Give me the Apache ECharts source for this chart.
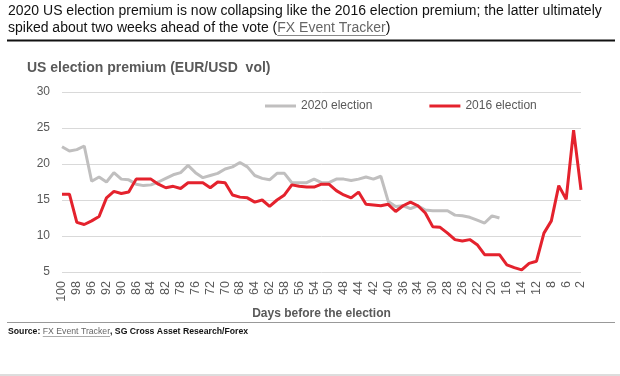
<!DOCTYPE html>
<html>
<head>
<meta charset="utf-8">
<script src="https://cdn.jsdelivr.net/npm/echarts@6/dist/echarts.min.js"></script>
<style>
  html, body { margin: 0; padding: 0; background: #fff; }
  #main { width: 620px; height: 376px; }
</style>
</head>
<body>
<div id="main"></div>
<script>
// days before the election (business days only)
const days = [100, 99, 98, 97, 96, 93, 92, 91, 90, 89, 86, 85, 84, 83, 82, 79, 78, 77, 76, 75,
  72, 71, 70, 69, 68, 65, 64, 63, 62, 61, 58, 57, 56, 55, 54, 51, 50, 49, 48, 47,
  44, 43, 42, 41, 40, 37, 36, 35, 34, 33, 30, 29, 28, 27, 26, 23, 22, 21, 20, 19,
  16, 15, 14, 13, 12, 9, 8, 7, 6, 5, 2];

// 2020 election premium
const vol2020 = [22.4, 21.8, 22.0, 22.5, 17.6, 18.2, 17.5, 18.8, 17.9, 17.8,
  17.2, 17.0, 17.1, 17.5, 18.0, 18.5, 18.8, 19.8, 18.8, 18.1,
  18.4, 18.7, 19.3, 19.6, 20.2, 19.6, 18.4, 18.0, 17.8, 18.7,
  18.7, 17.4, 17.4, 17.4, 17.9, 17.4, 17.4, 17.9, 17.9, 17.7,
  17.9, 18.2, 17.9, 18.3, 14.8, 14.1, 14.2, 13.8, 14.2, 13.6,
  13.5, 13.5, 13.5, 12.9, 12.8, 12.6, 12.2, 11.8, 12.8, 12.5,
  null, null, null, null, null, null, null, null, null, null, null];

// 2016 election premium
const vol2016 = [15.8, 15.8, 11.9, 11.6, 12.1, 12.7, 15.3, 16.2, 15.9, 16.1,
  17.9, 17.9, 17.9, 17.2, 16.7, 16.9, 16.6, 17.4, 17.4, 17.4,
  16.7, 17.5, 17.4, 15.7, 15.4, 15.3, 14.7, 15.0, 14.1, 15.0,
  15.7, 17.1, 16.9, 16.8, 16.8, 17.2, 17.2, 16.3, 15.7, 15.3,
  16.1, 14.4, 14.3, 14.2, 14.4, 13.4, 14.2, 14.7, 14.2, 13.2,
  11.3, 11.2, 10.4, 9.5, 9.3, 9.5, 8.8, 7.4, 7.4, 7.4,
  6.0, 5.6, 5.3, 6.2, 6.5, 10.4, 12.1, 17.0, 15.1, 24.7, 16.4];

const yTicks = [5, 10, 15, 20, 25, 30];

const FONT = 'Liberation Sans, Arial, sans-serif';
const RED = '#e4222d';
const GREY = '#c0bfbf';
const TXT = '#595959';

// measure text so the underlines sit right under the links
const ctx = document.createElement('canvas').getContext('2d');
const measure = (s, font) => { ctx.font = font; return ctx.measureText(s).width; };

const titleFont = '14px ' + FONT;
const line2a = 'spiked about two weeks ahead of the vote (';
const link = 'FX Event Tracker';
const x2a = 8 + measure(line2a, titleFont);
const linkW = measure(link, titleFont);

const srcBold = 'bold 8.7px ' + FONT;
const srcNorm = '8.7px ' + FONT;
const srcA = 'Source: ';
const srcX1 = 8 + measure(srcA, srcBold);
const srcLinkW = measure(link, srcNorm);

const chart = echarts.init(document.getElementById('main'), null, { renderer: 'canvas' });

const option = {
  backgroundColor: '#fff',
  animation: false,
  grid: { left: 62, right: 39, top: 92, bottom: 104 },
  legend: {
    left: 260,
    top: 95,
    itemWidth: 31,
    itemHeight: 3,
    itemGap: 57,
    icon: 'rect',
    textStyle: { color: TXT, fontSize: 12, fontFamily: FONT },
    data: ['2020 election', '2016 election']
  },
  xAxis: {
    type: 'category',
    boundaryGap: false,
    data: days,
    name: 'Days before the election',
    nameLocation: 'middle',
    nameGap: 36,
    nameTextStyle: { color: TXT, fontSize: 12, fontWeight: 'bold', fontFamily: FONT },
    axisLine: { show: false },
    axisTick: { show: false },
    axisLabel: { interval: 1, rotate: 90, color: TXT, fontSize: 12.5, fontFamily: FONT, margin: 9 }
  },
  yAxis: {
    type: 'value',
    min: yTicks[0],
    max: yTicks[yTicks.length - 1],
    interval: 5,
    axisLine: { show: false },
    axisTick: { show: false },
    axisLabel: { color: TXT, fontSize: 12, fontFamily: FONT, margin: 12 },
    splitLine: { lineStyle: { color: '#d9d9d9', width: 1 } }
  },
  series: [
    {
      name: '2020 election',
      type: 'line',
      data: vol2020,
      symbol: 'none',
      color: GREY,
      lineStyle: { width: 3, color: GREY },
      z: 2
    },
    {
      name: '2016 election',
      type: 'line',
      data: vol2016,
      symbol: 'none',
      color: RED,
      lineStyle: { width: 3, color: RED },
      z: 3
    }
  ],
  graphic: [
    // heading
    { type: 'text', left: 8, top: 4, style: { text: '2020 US election premium is now collapsing like the 2016 election premium; the latter ultimately', font: titleFont, fill: '#111' } },
    { type: 'text', left: 8, top: 21, style: { text: line2a, font: titleFont, fill: '#111' } },
    { type: 'text', left: x2a, top: 21, style: { text: link, font: titleFont, fill: '#666' } },
    { type: 'text', left: x2a + linkW, top: 21, style: { text: ')', font: titleFont, fill: '#111' } },
    { type: 'line', shape: { x1: x2a, y1: 35.5, x2: x2a + linkW, y2: 35.5 }, style: { stroke: '#888', lineWidth: 1 } },
    { type: 'line', shape: { x1: 7, y1: 40.5, x2: 615, y2: 40.5 }, style: { stroke: '#111', lineWidth: 2 } },
    // chart title
    { type: 'text', left: 27, top: 61, style: { text: 'US election premium (EUR/USD  vol)', font: 'bold 14px ' + FONT, fill: TXT } },
    // source
    { type: 'line', shape: { x1: 7, y1: 322.5, x2: 615, y2: 322.5 }, style: { stroke: '#999', lineWidth: 1 } },
    { type: 'text', left: 8, top: 327, style: { text: srcA, font: srcBold, fill: '#111' } },
    { type: 'text', left: srcX1, top: 327, style: { text: link, font: srcNorm, fill: '#666' } },
    { type: 'line', shape: { x1: srcX1, y1: 336.5, x2: srcX1 + srcLinkW, y2: 336.5 }, style: { stroke: '#888', lineWidth: 0.7 } },
    { type: 'text', left: srcX1 + srcLinkW, top: 327, style: { text: ', SG Cross Asset Research/Forex', font: srcBold, fill: '#111' } },
    { type: 'line', shape: { x1: 0, y1: 375, x2: 620, y2: 375 }, style: { stroke: '#bbb', lineWidth: 1 } }
  ]
};

chart.setOption(option);
</script>
</body>
</html>
